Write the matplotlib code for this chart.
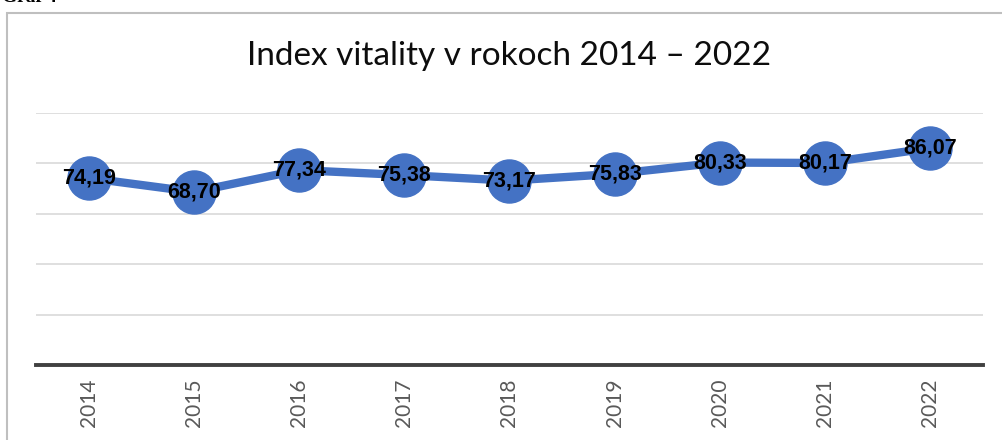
import matplotlib
matplotlib.use("Agg")
import matplotlib.pyplot as plt
from matplotlib.patches import Rectangle

years = ["2014", "2015", "2016", "2017", "2018", "2019", "2020", "2021", "2022"]
vitality = [74.19, 68.70, 77.34, 75.38, 73.17, 75.83, 80.33, 80.17, 86.07]
labels = ["74,19", "68,70", "77,34", "75,38", "73,17", "75,83", "80,33", "80,17", "86,07"]
grid_values = [20, 40, 60, 80, 100]

W, H = 1002, 440
fig = plt.figure(figsize=(W / 100, H / 100), dpi=100)
fig.patch.set_facecolor("white")

# outer chart frame (right and bottom fall outside the picture)
fig.patches.append(Rectangle((7 / W, -0.2), 1.2, (H - 13.5) / H + 0.2,
                             transform=fig.transFigure, fill=False,
                             edgecolor="#bfbfbf", linewidth=1.5))
fig.text(2 / W, (H - 6) / H, "Graf 4", family="Liberation Serif",
         fontweight="bold", fontsize=14, va="bottom", ha="left")

ax = fig.add_axes([36 / W, 75 / H, 947 / W, 252 / H])
ax.set_xlim(-0.5, len(years) - 0.5)
ax.set_ylim(0, 100)
for v in grid_values:
    ax.axhline(v, color="#d9d9d9", linewidth=1.2, zorder=0)
ax.axhline(0, color="#404040", linewidth=2.8, zorder=1, clip_on=False)
for s in ax.spines.values():
    s.set_visible(False)
ax.set_yticks([])
x = range(len(years))
ax.set_xticks(list(x))
ax.set_xticklabels(years, rotation=90, family="Lato", fontsize=15, color="#595959")
ax.tick_params(axis="x", length=0, pad=10)

ax.plot(x, vitality, color="#4472c4", linewidth=6, marker="o", markersize=31,
        markerfacecolor="#4472c4", markeredgecolor="#4472c4", zorder=3,
        solid_capstyle="round", clip_on=False)
for xi, v, lab in zip(x, vitality, labels):
    ax.text(xi, v, lab, ha="center", va="center", fontsize=15.5,
            fontweight="bold", family="Liberation Sans", color="black", zorder=4)

fig.text(509 / W, (H - 56) / H, "Index vitality v rokoch 2014 \u2013 2022",
         ha="center", va="center", family="Lato", fontsize=24, color="#0d0d0d")

fig.savefig("out.png", dpi=100)
